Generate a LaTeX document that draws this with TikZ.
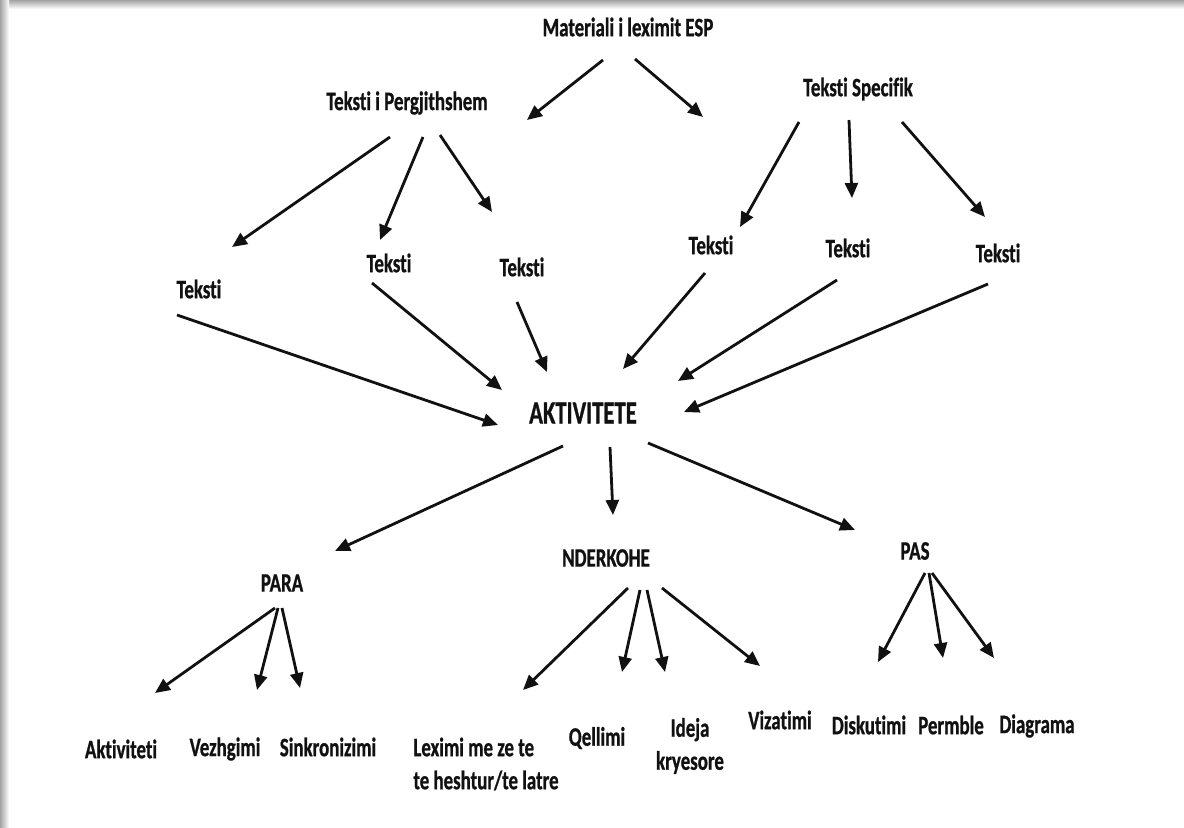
\documentclass[tikz,border=0pt]{standalone}
\usepackage{fontspec}
\usetikzlibrary{arrows.meta,calc}
\newfontfamily\lbl{Carlito}[UprightFont=* Bold,FakeStretch=0.71,FakeBold=0.8,Ligatures=NoCommon]
\definecolor{ink}{HTML}{111111}
\definecolor{edge}{HTML}{A4A4A4}

\tikzset{
  lab/.style={font=\lbl\fontsize{13.3}{16.5}\selectfont, text=ink, inner sep=0pt, align=center},
  big/.style={font=\lbl\fontsize{16}{19}\selectfont, text=ink, inner sep=0pt},
  arr/.style={draw=ink, line width=1.4pt, -{Triangle[length=7.5pt,width=6.5pt]}},
}
% link: source node, start offset, target node, end offset
\newcommand{\link}[6]{\draw[arr] ([shift={(#2,#3)}]#1.center) -- ([shift={(#5,#6)}]#4.center);}

\begin{document}
\begin{tikzpicture}[x=0.5pt,y=-0.5pt]
\useasboundingbox (0,0) rectangle (1184,828);
\fill[white] (0,0) rectangle (1184,828);
% drop shadow of the page frame
\shade[top color=edge, bottom color=white] (0,0) rectangle (1184,9);
\shade[left color=edge, right color=white] (0,0) rectangle (9,828);

% top levels
\node[lab] (mat)  at (628,27)  {Materiali i leximit ESP};
\node[lab] (gen)  at (407,103) {Teksti i Pergjithshem};
\node[lab] (spec) at (858,89)  {Teksti Specifik};
\coordinate (free) at (703,117);

% texts
\node[lab] (t1) at (199,289) {Teksti};
\node[lab] (t2) at (389,263) {Teksti};
\node[lab] (t3) at (522,267) {Teksti};
\node[lab] (t4) at (711,245) {Teksti};
\node[lab] (t5) at (848,248) {Teksti};
\node[lab] (t6) at (998,253) {Teksti};

% activities
\node[big] (akt) at (583,413) {AKTIVITETE};
\node[lab] (para) at (282,583) {PARA};
\node[lab] (nder) at (606,558) {NDERKOHE};
\node[lab] (pas)  at (915,551) {PAS};

% leaves
\node[lab] (a1) at (121,749) {Aktiviteti};
\node[lab] (a2) at (225,749) {Vezhgimi};
\node[lab] (a3) at (328,747) {Sinkronizimi};
\node[lab,align=left] (lex) at (486,764) {Leximi me ze te\\te heshtur/te latre};
\node[lab] (qel) at (597,738) {Qellimi};
\node[lab] (ide) at (690,746) {Ideja\\kryesore};
\node[lab] (viz) at (780,720) {Vizatimi};
\node[lab] (dis) at (869,725) {Diskutimi};
\node[lab] (per) at (951,725) {Permble};
\node[lab] (dia) at (1037,726) {Diagrama};

% connectors
\link{mat}{-25}{33}{gen}{120}{17}
\draw[arr] ([shift={(7,32)}]mat.center) -- (free);

\link{gen}{-17}{34}{t1}{33}{-42}
\link{gen}{16}{34}{t2}{-9}{-23}
\link{gen}{33}{32}{t3}{-30}{-55}
\link{spec}{-59}{33}{t4}{29}{-18}
\link{spec}{-9}{31}{t5}{4}{-50}
\link{spec}{44}{33}{t6}{-13}{-36}

\link{t1}{-22}{26}{akt}{-85}{12}
\link{t2}{-17}{20}{akt}{-81}{-23}
\link{t3}{-5}{35}{akt}{-36}{-41}
\link{t4}{-6}{28}{akt}{40}{-44}
\link{t5}{-11}{32}{akt}{95}{-32}
\link{t6}{-10}{31}{akt}{101}{-1}

\link{akt}{-20}{33}{para}{53}{-32}
\link{akt}{27}{34}{nder}{7}{-43}
\link{akt}{65}{30}{pas}{-60}{-21}

\link{para}{-7}{25}{a1}{34}{-56}
\link{para}{-4}{25}{a2}{32}{-59}
\link{para}{0}{25}{a3}{-28}{-59}

\link{nder}{22}{30}{lex}{37}{-74}
\link{nder}{34}{32}{qel}{25}{-66}
\link{nder}{41}{32}{ide}{-25}{-74}
\link{nder}{56}{30}{viz}{-20}{-54}

\link{pas}{10}{22}{dis}{9}{-63}
\link{pas}{14}{22}{per}{-8}{-67}
\link{pas}{17}{22}{dia}{-43}{-68}
\end{tikzpicture}
\end{document}
